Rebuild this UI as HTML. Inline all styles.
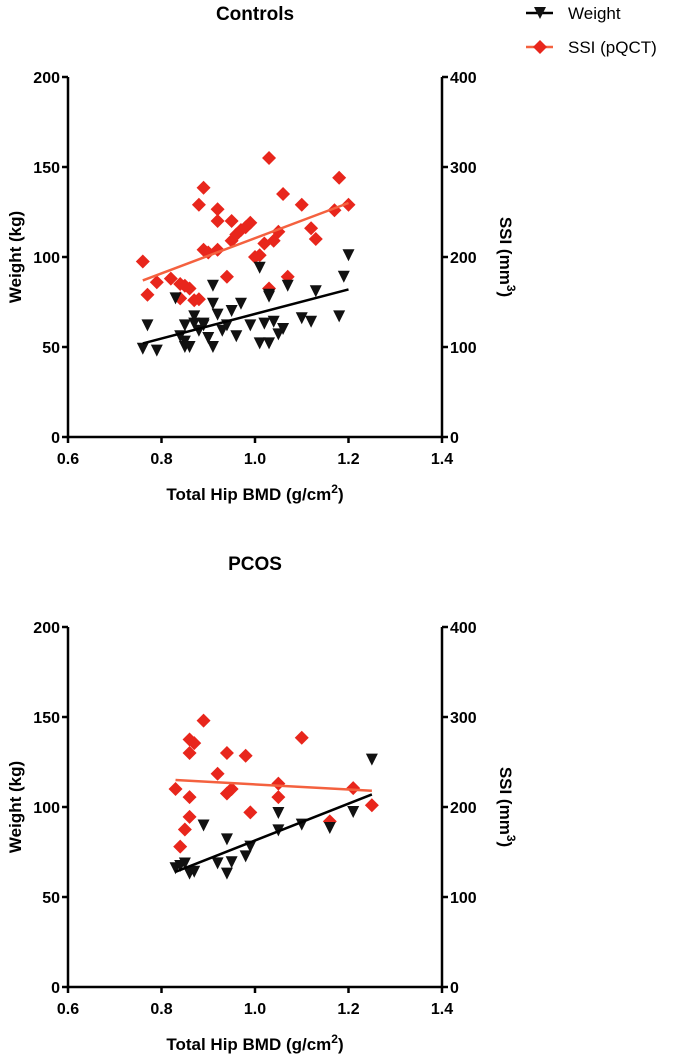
<!DOCTYPE html>
<html><head><meta charset="utf-8"><style>
body{margin:0;background:#fff;}
svg{display:block;font-family:"Liberation Sans",Arial,sans-serif;}
</style></head><body>
<svg id="s" width="675" height="1056"></svg>
<script>
const xTicks=[0.6,0.8,1.0,1.2,1.4];
const xTickLabels=["0.6","0.8","1.0","1.2","1.4"];
const wTicks=[0,50,100,150,200];
const sTicks=[0,100,200,300,400];
const cW=[[0.76,49],[0.77,62],[0.79,48],[0.83,77],[0.84,56],[0.85,50],[0.85,53],[0.85,62],[0.86,50],[0.87,63],[0.87,67],[0.88,59],[0.89,62],[0.89,63],[0.90,55],[0.91,50],[0.91,74],[0.91,84],[0.92,68],[0.93,59],[0.94,62],[0.95,70],[0.96,56],[0.97,74],[0.99,62],[1.01,94],[1.01,52],[1.02,63],[1.03,79],[1.03,78],[1.03,52],[1.04,64],[1.05,57],[1.06,60],[1.07,84],[1.10,66],[1.12,64],[1.13,81],[1.18,67],[1.19,89],[1.20,101]];
const cS=[[0.76,195],[0.77,158],[0.79,172],[0.82,176],[0.84,170],[0.84,154],[0.85,168],[0.86,165],[0.87,152],[0.88,153],[0.88,258],[0.89,277],[0.89,208],[0.90,205],[0.92,253],[0.92,240],[0.92,208],[0.94,178],[0.95,218],[0.95,240],[0.96,225],[0.97,230],[0.98,233],[0.99,238],[1.00,200],[1.01,202],[1.02,215],[1.03,165],[1.03,310],[1.04,218],[1.05,228],[1.06,270],[1.07,178],[1.10,258],[1.12,232],[1.13,220],[1.17,252],[1.18,288],[1.20,258]];
const cWFit=[[0.76,52],[1.2,82]];
const cSFit=[[0.76,174],[1.2,260]];
const pW=[[0.83,66],[0.85,68.6],[0.84,67.2],[0.86,63],[0.87,64],[0.89,89.7],[0.92,68.7],[0.94,63],[0.94,82],[0.95,69.3],[0.98,72.6],[0.99,78],[1.05,96.7],[1.05,87],[1.10,90.2],[1.16,88.3],[1.21,97.2],[1.25,126.3]];
const pS=[[0.89,296],[0.86,275],[0.87,271],[0.86,260],[0.94,260],[0.98,257],[1.10,277],[0.92,237],[0.83,220],[0.86,211],[0.95,220],[0.94,215],[1.05,226],[1.05,211],[1.21,221],[1.25,202],[0.99,194],[0.86,189],[0.85,175],[1.16,184],[0.84,156]];
const pWFit=[[0.83,64],[1.25,107]];
const pSFit=[[0.83,230],[1.25,218]];
const NS="http://www.w3.org/2000/svg";
const svg=document.getElementById('s');
function el(t,a,p){const e=document.createElementNS(NS,t);for(const k in a)e.setAttribute(k,a[k]);(p||svg).appendChild(e);return e;}
function txt(s,a,p){const e=el('text',a,p);e.textContent=s;return e;}
function tri(g,x,y,name){const e=el('path',{d:`M${x-6},${y-6}L${x+6},${y-6}L${x},${y+6}Z`,fill:'#111'},g);}
function dia(g,x,y,name){const e=el('path',{d:`M${x},${y-7}L${x+7},${y}L${x},${y+7}L${x-7},${y}Z`,fill:'#e8261c'},g);}
function panel(y0,title,W,S,WF,SF,key){
 const g=el('g',{});
 
 
 const L=68,R=442,B=y0+360,T=y0;
 const X=v=>L+(v-0.6)/0.8*(R-L);
 const YW=v=>B-v/200*(B-T);
 const YS=v=>B-v/400*(B-T);
 const t=txt(title,{x:255,y:y0-57,'text-anchor':'middle','font-size':19,'font-weight':'bold'},g);
 
 el('path',{d:`M${L},${T}V${B}H${R}V${T}`,stroke:'#000','stroke-width':2.5,fill:'none'},g);
 xTicks.forEach((v,i)=>{el('line',{x1:X(v),x2:X(v),y1:B,y2:B+6,stroke:'#000','stroke-width':2.5},g);
  const e=txt(xTickLabels[i],{x:X(v),y:B+27,'text-anchor':'middle','font-size':16,'font-weight':'bold'},g);
  });
 wTicks.forEach(v=>{el('line',{x1:L-6,x2:L,y1:YW(v),y2:YW(v),stroke:'#000','stroke-width':2.5},g);
  const e=txt(String(v),{x:L-8,y:YW(v)+6,'text-anchor':'end','font-size':16,'font-weight':'bold'},g);
  });
 sTicks.forEach(v=>{el('line',{x1:R,x2:R+6,y1:YS(v),y2:YS(v),stroke:'#000','stroke-width':2.5},g);
  const e=txt(String(v),{x:R+8,y:YS(v)+6,'font-size':16,'font-weight':'bold'},g);
  });
 const xl=txt('',{x:255,y:B+63,'text-anchor':'middle','font-size':17,'font-weight':'bold'},g);
 xl.innerHTML='Total Hip BMD (g/cm<tspan dy="-7" font-size="12">2</tspan><tspan dy="7">)</tspan>';
 
 const yl=txt('Weight (kg)',{x:0,y:0,'text-anchor':'middle','font-size':17,'font-weight':'bold',transform:`translate(21,${(T+B)/2}) rotate(-90)`},g);
 
 const yr=txt('',{x:0,y:0,'text-anchor':'middle','font-size':17,'font-weight':'bold',transform:`translate(500,${(T+B)/2}) rotate(90)`},g);
 yr.innerHTML='SSI (mm<tspan dy="-7" font-size="12">3</tspan><tspan dy="7">)</tspan>';
 
 S.forEach(p=>dia(g,X(p[0]),YS(p[1]),'ssi-point'));
 W.forEach(p=>tri(g,X(p[0]),YW(p[1]),'weight-point'));
 const l1=el('line',{x1:X(SF[0][0]),y1:YS(SF[0][1]),x2:X(SF[1][0]),y2:YS(SF[1][1]),stroke:'#f4613f','stroke-width':2.5},g);
 
 const l2=el('line',{x1:X(WF[0][0]),y1:YW(WF[0][1]),x2:X(WF[1][0]),y2:YW(WF[1][1]),stroke:'#000','stroke-width':2.5},g);
 
}
panel(77,'Controls',cW,cS,cWFit,cSFit,'controls');
panel(627,'PCOS',pW,pS,pWFit,pSFit,'pcos');
const lg=el('g',{});


el('line',{x1:526,x2:553,y1:13,y2:13,stroke:'#000','stroke-width':2.5},lg);
tri(lg,540,13,'legend-weight-marker');
const a=txt('Weight',{x:568,y:19,'font-size':17},lg);

el('line',{x1:526,x2:553,y1:47,y2:47,stroke:'#f4613f','stroke-width':2.5},lg);
dia(lg,540,47,'legend-ssi-marker');
const b=txt('SSI (pQCT)',{x:568,y:53,'font-size':17},lg);

</script>
</body></html>
